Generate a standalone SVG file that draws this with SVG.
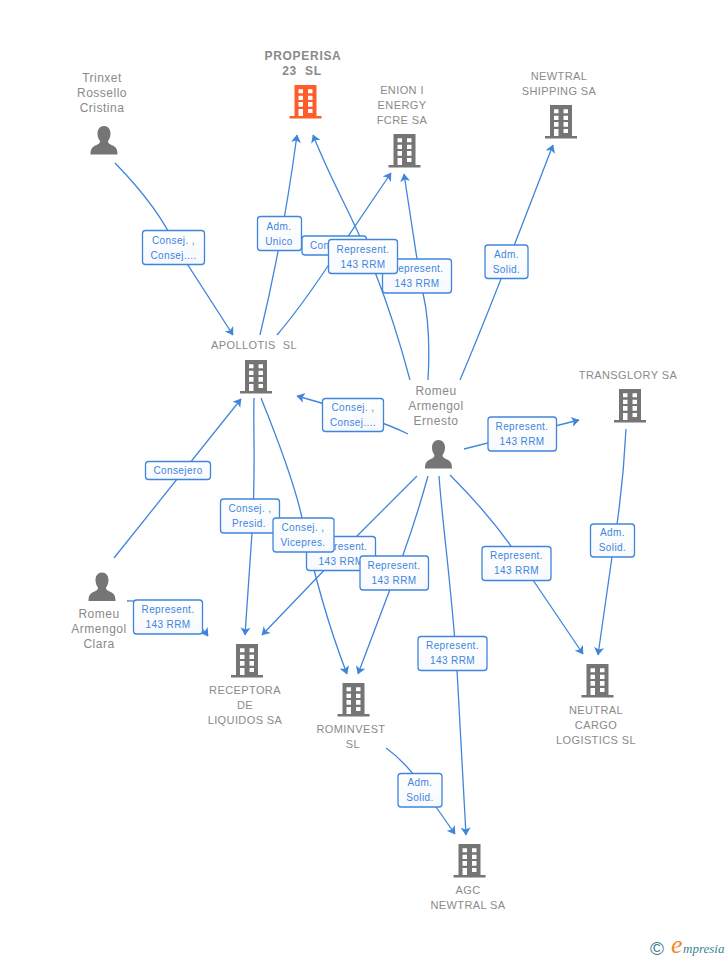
<svg xmlns="http://www.w3.org/2000/svg" width="728" height="960" viewBox="0 0 728 960">
<style>
text{font-family:"Liberation Sans",Arial,sans-serif;white-space:pre}
.n{font-size:11px;letter-spacing:.4px;fill:#8a8a8a;text-anchor:middle}
.m{font-size:12px;letter-spacing:.5px;fill:#8a8a8a;text-anchor:middle}
.t{font-size:12px;font-weight:bold;letter-spacing:.7px;fill:#8a8a8a;text-anchor:middle}
.l{font-size:10px;letter-spacing:.4px;fill:#3f85dc;text-anchor:middle}
.b{fill:url(#bg);stroke:#3f85dc;stroke-width:1.3}
.e{fill:none;stroke:#3f85dc;stroke-width:1.3;marker-end:url(#ah)}
</style>
<defs>
<linearGradient id="bg" x1="0" y1="0" x2="0" y2="1"><stop offset="0" stop-color="#fff"/><stop offset="1" stop-color="#f6f9fe"/></linearGradient>
<marker id="ah" viewBox="0 0 8 11" refX="7.500" refY="5.500" markerWidth="8" markerHeight="11" markerUnits="userSpaceOnUse" orient="auto"><path d="M0 0.500L8 5.500L0 10.500L2 5.500Z" fill="#3f85dc"/></marker>
<symbol id="bld" width="32" height="34" viewBox="0 0 32 34" overflow="visible">
<path fill-rule="evenodd" d="M5 0H27V31H32V33.500H0V31H5ZM9 4.300V8.300H13.500V4.300ZM18.500 4.300V8.300H23V4.300ZM9 10.700V15H13.500V10.700ZM18.500 10.700V15H23V10.700ZM9 17V21.700H13.500V17ZM18.500 17V21.700H23V17ZM9 24V31H13.500V24ZM18.500 24V28H23V24Z"/>
</symbol>
<symbol id="per" width="28" height="29" viewBox="0 0 28 29" overflow="visible">
<path d="M14 0C18 0 20.500 3.300 20.500 7.500C20.500 10.500 19.500 13 18 15C18 17 19 18 22 19.300C25.500 20.700 27.500 22.500 27.500 28.500H0.500C0.500 22.500 2.500 20.700 6 19.300C9 18 10 17 10 15C8.500 13 7.500 10.500 7.500 7.500C7.500 3.300 10 0 14 0Z"/>
</symbol>
</defs>
<rect width="728" height="960" fill="#fff"/>
<g id="connectors">
<path class="e" d="M115 163C148 197 165 222 175 245L233 335"/>
<path class="e" d="M260 335C272 285 285 225 297 135"/>
<path class="e" d="M277 335C300 308 320 278 330 263L391 173"/>
<path class="e" d="M410 380C398 335 388 305 375 272C355 220 335 190 313 135"/>
<path class="e" d="M428 380C430 345 428 315 423 293L417 259L404 174"/>
<path class="e" d="M460 380C490 310 520 230 553 145"/>
<path class="e" d="M408 434C380 420 340 408 297 396"/>
<path class="e" d="M464 449L579 420"/>
<path class="e" d="M626 429C624 470 620 510 612 557L598 655"/>
<path class="e" d="M450 475C480 505 510 540 533 580L583 654"/>
<path class="e" d="M439 476C443 530 452 590 457 670L466 835"/>
<path class="e" d="M428 476C420 505 412 530 403 555L358 674"/>
<path class="e" d="M417 476C395 498 375 518 358 535L262 635"/>
<path class="e" d="M127 601C165 600 195 618 208 636"/>
<path class="e" d="M114 558L241 399"/>
<path class="e" d="M254 398C253 430 256 470 252 533L245 635"/>
<path class="e" d="M261 398C280 445 295 485 302 518C315 580 330 630 347 674"/>
<path class="e" d="M386 748C410 765 425 790 436 807L455 834"/>
</g>
<g id="edge-labels">
<g><rect class="b" x="142.500" y="230.500" width="62" height="34" rx="3"/><text class="l" x="173.500" y="244">Consej. ,</text><text class="l" x="173.500" y="259">Consej....</text></g>
<g><rect class="b" x="145.500" y="461.500" width="65" height="18" rx="3"/><text class="l" x="178" y="474">Consejero</text></g>
<g><rect class="b" x="322.500" y="398.500" width="61" height="33" rx="3"/><text class="l" x="353" y="411">Consej. ,</text><text class="l" x="353" y="426">Consej....</text></g>
<g><rect class="b" x="485" y="245" width="43" height="33.500" rx="3"/><text class="l" x="506.500" y="258">Adm.</text><text class="l" x="506.500" y="273">Solid.</text></g>
<g><rect class="b" x="488" y="417" width="68.500" height="34" rx="3"/><text class="l" x="522" y="430">Represent.</text><text class="l" x="522" y="445">143 RRM</text></g>
<g><rect class="b" x="590.500" y="524" width="44" height="33" rx="3"/><text class="l" x="612.500" y="536">Adm.</text><text class="l" x="612.500" y="551">Solid.</text></g>
<g><rect class="b" x="482" y="546.500" width="69" height="34" rx="3"/><text class="l" x="516.500" y="559">Represent.</text><text class="l" x="516.500" y="574">143 RRM</text></g>
<g><rect class="b" x="418" y="636.500" width="69" height="34" rx="3"/><text class="l" x="452.500" y="649">Represent.</text><text class="l" x="452.500" y="664">143 RRM</text></g>
<g><rect class="b" x="398" y="773.500" width="44" height="33.500" rx="3"/><text class="l" x="420" y="786">Adm.</text><text class="l" x="420" y="801">Solid.</text></g>
<g><rect class="b" x="133.500" y="600" width="69" height="34" rx="3"/><text class="l" x="168" y="613">Represent.</text><text class="l" x="168" y="628">143 RRM</text></g>
<g><rect class="b" x="302" y="236" width="64.500" height="19" rx="3"/><text class="l" x="334.500" y="249">Consejero</text></g>
<g><rect class="b" x="257.500" y="216.500" width="44" height="34" rx="3"/><text class="l" x="279" y="230">Adm.</text><text class="l" x="279" y="245">Unico</text></g>
<g><rect class="b" x="382.500" y="259" width="69" height="34" rx="3"/><text class="l" x="417" y="272">Represent.</text><text class="l" x="417" y="287">143 RRM</text></g>
<g><rect class="b" x="328.500" y="239.500" width="69" height="34" rx="3"/><text class="l" x="363" y="253">Represent.</text><text class="l" x="363" y="268">143 RRM</text></g>
<g><rect class="b" x="306.500" y="536.500" width="69" height="34" rx="3"/><text class="l" x="341" y="550">Represent.</text><text class="l" x="341" y="565">143 RRM</text></g>
<g><rect class="b" x="220.500" y="499" width="59" height="34" rx="3"/><text class="l" x="250" y="512">Consej. ,</text><text class="l" x="249" y="527">Presid.</text></g>
<g><rect class="b" x="273" y="518" width="61" height="34" rx="3"/><text class="l" x="303" y="531">Consej. ,</text><text class="l" x="303" y="546">Vicepres.</text></g>
<g><rect class="b" x="360" y="556" width="68.500" height="34" rx="3"/><text class="l" x="394" y="569">Represent.</text><text class="l" x="394" y="584">143 RRM</text></g>
</g>
<g id="n-trinxet"><text class="m" x="102" y="82">Trinxet</text><text class="m" x="102" y="97">Rossello</text><text class="m" x="102" y="112">Cristina</text><use href="#per" x="90" y="126" fill="#757575"/></g>
<g id="n-properisa"><text class="t" x="303" y="60">PROPERISA</text><text class="t" x="302" y="75">23  SL</text><use href="#bld" x="289.500" y="85" fill="#ff5c2b"/></g>
<g id="n-enion"><text class="n" x="402" y="94">ENION I</text><text class="n" x="402" y="109">ENERGY</text><text class="n" x="402" y="124">FCRE SA</text><use href="#bld" x="388.500" y="134" fill="#757575"/></g>
<g id="n-newtral"><text class="n" x="559" y="80">NEWTRAL</text><text class="n" x="559" y="95">SHIPPING SA</text><use href="#bld" x="545" y="105" fill="#757575"/></g>
<g id="n-apollotis"><text class="n" x="254" y="349">APOLLOTIS  SL</text><use href="#bld" x="240" y="360" fill="#757575"/></g>
<g id="n-transglory"><text class="n" x="628" y="379">TRANSGLORY SA</text><use href="#bld" x="614" y="389" fill="#757575"/></g>
<g id="n-ernesto"><text class="m" x="436" y="395">Romeu</text><text class="m" x="436" y="410">Armengol</text><text class="m" x="436" y="425">Ernesto</text><use href="#per" x="424.500" y="440" fill="#757575"/></g>
<g id="n-clara"><text class="m" x="99" y="618">Romeu</text><text class="m" x="99" y="633">Armengol</text><text class="m" x="99" y="648">Clara</text><use href="#per" x="88" y="572.500" fill="#757575"/></g>
<g id="n-receptora"><text class="n" x="245" y="694">RECEPTORA</text><text class="n" x="245" y="709">DE</text><text class="n" x="245" y="724">LIQUIDOS SA</text><use href="#bld" x="231" y="644" fill="#757575"/></g>
<g id="n-rominvest"><text class="n" x="351" y="733">ROMINVEST</text><text class="n" x="353" y="748">SL</text><use href="#bld" x="337.500" y="683" fill="#757575"/></g>
<g id="n-neutral"><text class="n" x="596" y="714">NEUTRAL</text><text class="n" x="596" y="729">CARGO</text><text class="n" x="596" y="744">LOGISTICS SL</text><use href="#bld" x="581.500" y="664" fill="#757575"/></g>
<g id="n-agc"><text class="n" x="468" y="894">AGC</text><text class="n" x="468" y="909">NEWTRAL SA</text><use href="#bld" x="453.500" y="844" fill="#757575"/></g>
<g id="logo"><text x="650" y="955" style="font-size:19px;fill:#3f7f96">©</text><text x="671" y="953" style="font-family:'Liberation Serif',serif;font-style:italic;font-size:26px;fill:#f08a24">e</text><text x="683" y="953" style="font-family:'Liberation Serif',serif;font-style:italic;font-size:13px;fill:#3f7f96">mpresia</text></g>
</svg>
